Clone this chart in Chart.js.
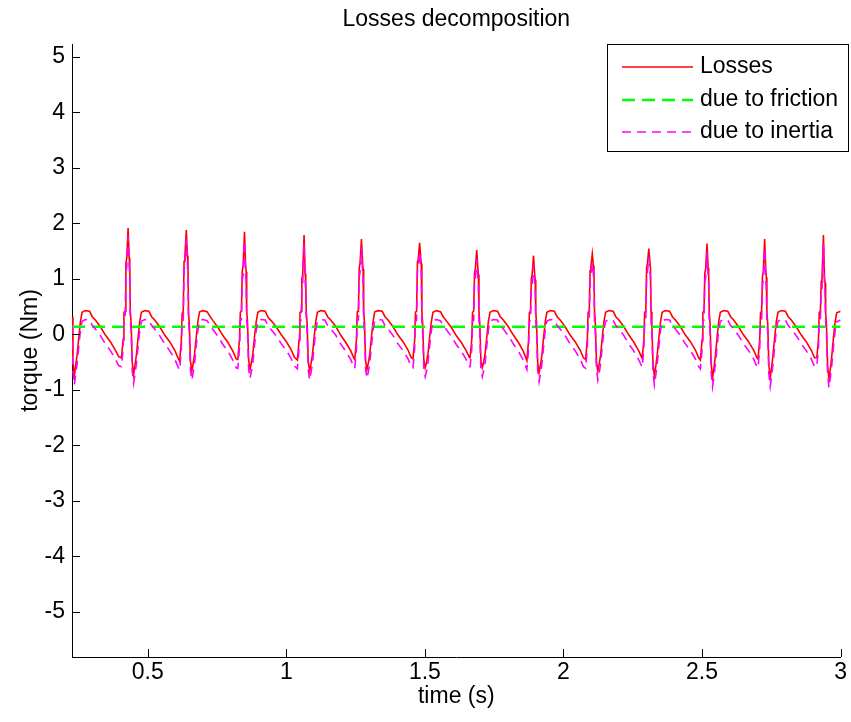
<!DOCTYPE html>
<html>
<head>
<meta charset="utf-8">
<title>Losses decomposition</title>
<script src="https://cdn.jsdelivr.net/npm/chart.js@4.4.1/dist/chart.umd.min.js"></script>
<style>
  html, body { margin: 0; padding: 0; background: #fff; }
  #wrap { width: 851px; height: 722px; }
</style>
</head>
<body>
<div id="wrap"><canvas id="chart" width="851" height="722"></canvas></div>
<script>
// Sample times (s), one row per motor cycle
const time = [
  0.227, 0.230, 0.235, 0.240, 0.245, 0.251, 0.257, 0.263, 0.275, 0.290, 0.300, 0.311, 0.329, 0.347, 0.365, 0.383, 0.395,
  0.405, 0.411, 0.414, 0.418, 0.421, 0.424, 0.429, 0.433, 0.435, 0.437, 0.440, 0.444, 0.449, 0.454, 0.459, 0.465, 0.471, 0.477, 0.489, 0.504, 0.514, 0.525, 0.543, 0.561, 0.579, 0.597, 0.609,
  0.615, 0.621, 0.624, 0.628, 0.631, 0.634, 0.639, 0.643, 0.645, 0.647, 0.650, 0.654, 0.659, 0.664, 0.669, 0.675, 0.681, 0.687, 0.699, 0.714, 0.724, 0.735, 0.753, 0.771, 0.789, 0.807, 0.819,
  0.825, 0.831, 0.834, 0.838, 0.841, 0.844, 0.849, 0.853, 0.855, 0.857, 0.860, 0.864, 0.869, 0.874, 0.879, 0.885, 0.891, 0.897, 0.909, 0.924, 0.934, 0.945, 0.963, 0.981, 0.999, 1.017, 1.029,
  1.040, 1.046, 1.049, 1.053, 1.056, 1.059, 1.064, 1.068, 1.070, 1.072, 1.075, 1.079, 1.084, 1.089, 1.094, 1.100, 1.106, 1.112, 1.124, 1.139, 1.149, 1.160, 1.178, 1.196, 1.214, 1.232, 1.244,
  1.247, 1.253, 1.256, 1.260, 1.263, 1.266, 1.271, 1.275, 1.277, 1.279, 1.282, 1.286, 1.291, 1.296, 1.301, 1.307, 1.313, 1.319, 1.331, 1.346, 1.356, 1.367, 1.385, 1.403, 1.421, 1.439, 1.451,
  1.457, 1.463, 1.466, 1.470, 1.473, 1.476, 1.481, 1.485, 1.487, 1.489, 1.492, 1.496, 1.501, 1.506, 1.511, 1.517, 1.523, 1.529, 1.541, 1.556, 1.566, 1.577, 1.595, 1.613, 1.631, 1.649, 1.661,
  1.663, 1.669, 1.672, 1.676, 1.679, 1.682, 1.687, 1.691, 1.693, 1.695, 1.698, 1.702, 1.707, 1.712, 1.717, 1.723, 1.729, 1.735, 1.747, 1.762, 1.772, 1.783, 1.801, 1.819, 1.837, 1.855,
  1.868, 1.874, 1.877, 1.881, 1.884, 1.887, 1.892, 1.896, 1.898, 1.900, 1.903, 1.907, 1.912, 1.917, 1.922, 1.928, 1.934, 1.940, 1.952, 1.967, 1.977, 1.988, 2.006, 2.024, 2.042, 2.060, 2.072,
  2.080, 2.086, 2.089, 2.093, 2.096, 2.099, 2.104, 2.108, 2.110, 2.112, 2.115, 2.119, 2.124, 2.129, 2.134, 2.140, 2.146, 2.152, 2.164, 2.179, 2.189, 2.200, 2.218, 2.236, 2.254, 2.272,
  2.284, 2.290, 2.293, 2.297, 2.300, 2.303, 2.308, 2.312, 2.314, 2.316, 2.319, 2.323, 2.328, 2.333, 2.338, 2.344, 2.350, 2.356, 2.368, 2.383, 2.393, 2.404, 2.422, 2.440, 2.458, 2.476, 2.488,
  2.494, 2.500, 2.503, 2.507, 2.510, 2.513, 2.518, 2.522, 2.524, 2.526, 2.529, 2.533, 2.538, 2.543, 2.548, 2.554, 2.560, 2.566, 2.578, 2.593, 2.603, 2.614, 2.632, 2.650, 2.668, 2.686, 2.698,
  2.702, 2.708, 2.711, 2.715, 2.718, 2.721, 2.726, 2.730, 2.732, 2.734, 2.737, 2.741, 2.746, 2.751, 2.756, 2.762, 2.768, 2.774, 2.786, 2.801, 2.811, 2.822, 2.840, 2.858, 2.876, 2.894, 2.906,
  2.914, 2.920, 2.923, 2.927, 2.930, 2.933, 2.938, 2.942, 2.944, 2.946, 2.949, 2.953, 2.958, 2.963, 2.968, 2.974, 2.980, 2.986, 3.000
];

// Total loss torque (Nm)
const losses = [
  0.32, -0.50, -0.75, -0.55, -0.37, -0.06, 0.23, 0.40, 0.43, 0.42, 0.32, 0.26, 0.14, -0.01, -0.13, -0.28, -0.40,
  -0.42, -0.10, 0.40, 0.42, 1.28, 1.36, 1.92, 1.38, 1.26, 0.42, 0.20, -0.50, -0.72, -0.55, -0.37, -0.06, 0.23, 0.40, 0.43, 0.42, 0.32, 0.26, 0.14, -0.01, -0.13, -0.28, -0.42,
  -0.48, -0.12, 0.38, 0.42, 1.32, 1.40, 1.88, 1.42, 1.30, 0.40, 0.18, -0.48, -0.66, -0.52, -0.35, -0.04, 0.24, 0.41, 0.43, 0.41, 0.33, 0.25, 0.13, -0.02, -0.14, -0.30, -0.44,
  -0.45, -0.08, 0.40, 0.43, 1.15, 1.23, 1.85, 1.25, 1.13, 0.42, 0.22, -0.46, -0.63, -0.50, -0.36, -0.05, 0.22, 0.40, 0.43, 0.42, 0.31, 0.25, 0.14, 0.00, -0.12, -0.27, -0.41,
  -0.46, -0.10, 0.39, 0.42, 1.00, 1.08, 1.79, 1.10, 0.98, 0.40, 0.20, -0.48, -0.66, -0.53, -0.37, -0.07, 0.23, 0.40, 0.43, 0.42, 0.32, 0.26, 0.15, -0.01, -0.14, -0.29, -0.43,
  -0.45, -0.09, 0.41, 0.42, 1.20, 1.28, 1.72, 1.30, 1.18, 0.42, 0.21, -0.47, -0.63, -0.51, -0.36, -0.05, 0.23, 0.41, 0.43, 0.42, 0.32, 0.26, 0.14, -0.01, -0.13, -0.28, -0.42,
  -0.44, -0.10, 0.40, 0.42, 1.30, 1.36, 1.65, 1.38, 1.28, 0.41, 0.19, -0.45, -0.60, -0.50, -0.35, -0.05, 0.22, 0.40, 0.43, 0.41, 0.32, 0.25, 0.13, -0.02, -0.14, -0.29, -0.42,
  -0.42, -0.10, 0.40, 0.42, 1.10, 1.18, 1.52, 1.20, 1.08, 0.42, 0.20, -0.46, -0.60, -0.50, -0.36, -0.06, 0.23, 0.40, 0.43, 0.42, 0.32, 0.26, 0.14, -0.01, -0.14, -0.30,
  -0.47, -0.11, 0.39, 0.42, 1.00, 1.08, 1.42, 1.10, 0.98, 0.41, 0.19, -0.50, -0.69, -0.55, -0.38, -0.07, 0.22, 0.40, 0.43, 0.42, 0.32, 0.26, 0.14, -0.01, -0.13, -0.28, -0.42,
  -0.45, -0.09, 0.40, 0.42, 1.15, 1.22, 1.45, 1.24, 1.13, 0.42, 0.20, -0.48, -0.66, -0.53, -0.37, -0.06, 0.23, 0.40, 0.43, 0.42, 0.32, 0.26, 0.14, -0.01, -0.14, -0.30,
  -0.43, -0.10, 0.40, 0.42, 1.20, 1.28, 1.55, 1.30, 1.18, 0.41, 0.20, -0.52, -0.75, -0.58, -0.38, -0.07, 0.22, 0.40, 0.43, 0.42, 0.32, 0.26, 0.14, -0.01, -0.13, -0.28, -0.42,
  -0.46, -0.11, 0.40, 0.42, 1.10, 1.18, 1.64, 1.20, 1.08, 0.42, 0.19, -0.53, -0.78, -0.60, -0.39, -0.07, 0.23, 0.40, 0.43, 0.42, 0.32, 0.26, 0.14, -0.01, -0.13, -0.28, -0.42,
  -0.44, -0.10, 0.39, 0.42, 1.05, 1.13, 1.72, 1.15, 1.03, 0.41, 0.20, -0.54, -0.78, -0.60, -0.38, -0.06, 0.23, 0.40, 0.43, 0.42, 0.32, 0.26, 0.14, -0.01, -0.13, -0.28, -0.42,
  -0.42, -0.10, 0.40, 0.42, 0.95, 1.00, 1.79, 1.02, 0.93, 0.40, 0.18, -0.55, -0.80, -0.62, -0.40, -0.07, 0.22, 0.39, 0.42
];

// Inertial part of the loss torque (Nm)
const inertia = [
  0.16, -0.66, -0.91, -0.71, -0.53, -0.22, 0.07, 0.24, 0.27, 0.26, 0.16, 0.10, -0.02, -0.17, -0.29, -0.44, -0.56,
  -0.58, -0.26, 0.24, 0.26, 1.12, 1.20, 1.76, 1.22, 1.10, 0.26, 0.04, -0.66, -0.88, -0.71, -0.53, -0.22, 0.07, 0.24, 0.27, 0.26, 0.16, 0.10, -0.02, -0.17, -0.29, -0.44, -0.58,
  -0.64, -0.28, 0.22, 0.26, 1.16, 1.24, 1.72, 1.26, 1.14, 0.24, 0.02, -0.64, -0.82, -0.68, -0.51, -0.20, 0.08, 0.25, 0.27, 0.25, 0.17, 0.09, -0.03, -0.18, -0.30, -0.46, -0.60,
  -0.61, -0.24, 0.24, 0.27, 0.99, 1.07, 1.69, 1.09, 0.97, 0.26, 0.06, -0.62, -0.79, -0.66, -0.52, -0.21, 0.06, 0.24, 0.27, 0.26, 0.15, 0.09, -0.02, -0.16, -0.28, -0.43, -0.57,
  -0.62, -0.26, 0.23, 0.26, 0.84, 0.92, 1.63, 0.94, 0.82, 0.24, 0.04, -0.64, -0.82, -0.69, -0.53, -0.23, 0.07, 0.24, 0.27, 0.26, 0.16, 0.10, -0.01, -0.17, -0.30, -0.45, -0.59,
  -0.61, -0.25, 0.25, 0.26, 1.04, 1.12, 1.56, 1.14, 1.02, 0.26, 0.05, -0.63, -0.79, -0.67, -0.52, -0.21, 0.07, 0.25, 0.27, 0.26, 0.16, 0.10, -0.02, -0.17, -0.29, -0.44, -0.58,
  -0.60, -0.26, 0.24, 0.26, 1.14, 1.20, 1.49, 1.22, 1.12, 0.25, 0.03, -0.61, -0.76, -0.66, -0.51, -0.21, 0.06, 0.24, 0.27, 0.25, 0.16, 0.09, -0.03, -0.18, -0.30, -0.45, -0.58,
  -0.58, -0.26, 0.24, 0.26, 0.94, 1.02, 1.36, 1.04, 0.92, 0.26, 0.04, -0.62, -0.76, -0.66, -0.52, -0.22, 0.07, 0.24, 0.27, 0.26, 0.16, 0.10, -0.02, -0.17, -0.30, -0.46,
  -0.63, -0.27, 0.23, 0.26, 0.84, 0.92, 1.26, 0.94, 0.82, 0.25, 0.03, -0.66, -0.85, -0.71, -0.54, -0.23, 0.06, 0.24, 0.27, 0.26, 0.16, 0.10, -0.02, -0.17, -0.29, -0.44, -0.58,
  -0.61, -0.25, 0.24, 0.26, 0.99, 1.06, 1.29, 1.08, 0.97, 0.26, 0.04, -0.64, -0.82, -0.69, -0.53, -0.22, 0.07, 0.24, 0.27, 0.26, 0.16, 0.10, -0.02, -0.17, -0.30, -0.46,
  -0.59, -0.26, 0.24, 0.26, 1.04, 1.12, 1.39, 1.14, 1.02, 0.25, 0.04, -0.68, -0.91, -0.74, -0.54, -0.23, 0.06, 0.24, 0.27, 0.26, 0.16, 0.10, -0.02, -0.17, -0.29, -0.44, -0.58,
  -0.62, -0.27, 0.24, 0.26, 0.94, 1.02, 1.48, 1.04, 0.92, 0.26, 0.03, -0.69, -0.94, -0.76, -0.55, -0.23, 0.07, 0.24, 0.27, 0.26, 0.16, 0.10, -0.02, -0.17, -0.29, -0.44, -0.58,
  -0.60, -0.26, 0.23, 0.26, 0.89, 0.97, 1.56, 0.99, 0.87, 0.25, 0.04, -0.70, -0.94, -0.76, -0.54, -0.22, 0.07, 0.24, 0.27, 0.26, 0.16, 0.10, -0.02, -0.17, -0.29, -0.44, -0.58,
  -0.58, -0.26, 0.24, 0.26, 0.79, 0.84, 1.63, 0.86, 0.77, 0.24, 0.02, -0.71, -0.96, -0.78, -0.56, -0.23, 0.06, 0.23, 0.26
];

// Friction part: constant over the run
const frictionTime = [0.227, 3.0];
const friction = [0.14, 0.14];

// Axis ticks
const xTicks = [0.5, 1, 1.5, 2, 2.5, 3];
const xTickLabels = ['0.5', '1', '1.5', '2', '2.5', '3'];
const yTicks = [-5, -4, -3, -2, -1, 0, 1, 2, 3, 4, 5];
const yTickLabels = ['-5', '-4', '-3', '-2', '-1', '0', '1', '2', '3', '4', '5'];

const seriesLabels = ['Losses', 'due to friction', 'due to inertia'];

const FONT = "'Liberation Sans', Arial, Helvetica, sans-serif";
Chart.defaults.font.family = FONT;
Chart.defaults.color = '#000';

const toPoints = (xs, ys) => xs.map((x, i) => ({ x: x, y: ys[i] }));

// Short tick marks pointing into the plot area
const inwardTicks = {
  id: 'inwardTicks',
  afterDatasetsDraw(chart) {
    const { ctx, chartArea: a, scales: { x, y } } = chart;
    ctx.save();
    ctx.strokeStyle = '#000';
    ctx.lineWidth = 1;
    ctx.beginPath();
    x.ticks.forEach(t => {
      const px = Math.round(x.getPixelForValue(t.value)) + 0.5;
      ctx.moveTo(px, a.bottom);
      ctx.lineTo(px, a.bottom - 8);
    });
    y.ticks.forEach(t => {
      const py = Math.round(y.getPixelForValue(t.value)) + 0.5;
      ctx.moveTo(a.left, py);
      ctx.lineTo(a.left + 8, py);
    });
    ctx.stroke();
    ctx.restore();
  }
};

// Boxed legend in the upper right corner
const boxedLegend = {
  id: 'boxedLegend',
  afterDraw(chart) {
    const { ctx } = chart;
    const box = { x: 607.5, y: 44.5, w: 241, h: 107 };
    ctx.save();
    ctx.fillStyle = '#fff';
    ctx.fillRect(box.x, box.y, box.w, box.h);
    ctx.strokeStyle = '#000';
    ctx.lineWidth = 1;
    ctx.setLineDash([]);
    ctx.strokeRect(box.x, box.y, box.w, box.h);
    const rows = [67, 100, 132];
    chart.data.datasets.forEach((ds, i) => {
      const ry = rows[i];
      ctx.beginPath();
      ctx.strokeStyle = ds.borderColor;
      ctx.lineWidth = ds.borderWidth;
      ctx.setLineDash(ds.borderDash || []);
      ctx.moveTo(622, ry);
      ctx.lineTo(693, ry);
      ctx.stroke();
      ctx.setLineDash([]);
      ctx.fillStyle = '#000';
      ctx.font = '23px ' + FONT;
      ctx.textBaseline = 'middle';
      ctx.textAlign = 'left';
      ctx.fillText(ds.label, 700, ry);
    });
    ctx.restore();
  }
};

new Chart(document.getElementById('chart'), {
  type: 'line',
  data: {
    datasets: [
      { label: seriesLabels[0], data: toPoints(time, losses), borderColor: '#ff0000', borderWidth: 1.6, order: 3 },
      { label: seriesLabels[1], data: toPoints(frictionTime, friction), borderColor: '#00ff00', borderWidth: 2.5, borderDash: [13, 7], order: 2 },
      { label: seriesLabels[2], data: toPoints(time, inertia), borderColor: '#ff00ff', borderWidth: 1.6, borderDash: [9, 6], order: 1 }
    ]
  },
  options: {
    responsive: false,
    animation: false,
    devicePixelRatio: 1,
    layout: { padding: { left: 0, right: 8, top: 0, bottom: 0 } },
    elements: {
      point: { radius: 0, hoverRadius: 0 },
      line: { tension: 0, fill: false, borderJoinStyle: 'miter' }
    },
    plugins: {
      legend: { display: false },
      tooltip: { enabled: false },
      title: {
        display: true,
        text: 'Losses decomposition',
        fullSize: false,
        color: '#000',
        font: { size: 23, weight: 'normal', lineHeight: 1.2 },
        padding: { top: 6, bottom: 10.4 }
      }
    },
    scales: {
      x: {
        type: 'linear',
        position: 'bottom',
        min: 0.2266,
        max: 3.0,
        grid: { display: false, drawTicks: false },
        border: { display: true, color: '#000', width: 1 },
        afterBuildTicks: s => { s.ticks = xTicks.map(v => ({ value: v })); },
        afterFit: s => { s.height = 65; },
        ticks: {
          autoSkip: false,
          maxRotation: 0,
          padding: 4,
          font: { size: 23, lineHeight: 1 },
          callback: (v, i) => xTickLabels[i]
        },
        title: {
          display: true,
          text: 'time (s)',
          font: { size: 23, lineHeight: 1.2 },
          padding: { top: 0, bottom: 12 }
        }
      },
      y: {
        type: 'linear',
        position: 'left',
        min: -5.811,
        max: 5.234,
        grid: { display: false, drawTicks: false },
        border: { display: true, color: '#000', width: 1 },
        afterBuildTicks: s => { s.ticks = yTicks.map(v => ({ value: v })); },
        afterFit: s => { s.width = 72; },
        ticks: {
          autoSkip: false,
          padding: 7,
          font: { size: 23, lineHeight: 1 },
          callback: (v, i) => yTickLabels[i]
        },
        title: {
          display: true,
          text: 'torque (Nm)',
          font: { size: 23, lineHeight: 1.2 },
          padding: { top: 17, bottom: 0 }
        }
      }
    }
  },
  plugins: [inwardTicks, boxedLegend]
});
</script>
</body>
</html>
